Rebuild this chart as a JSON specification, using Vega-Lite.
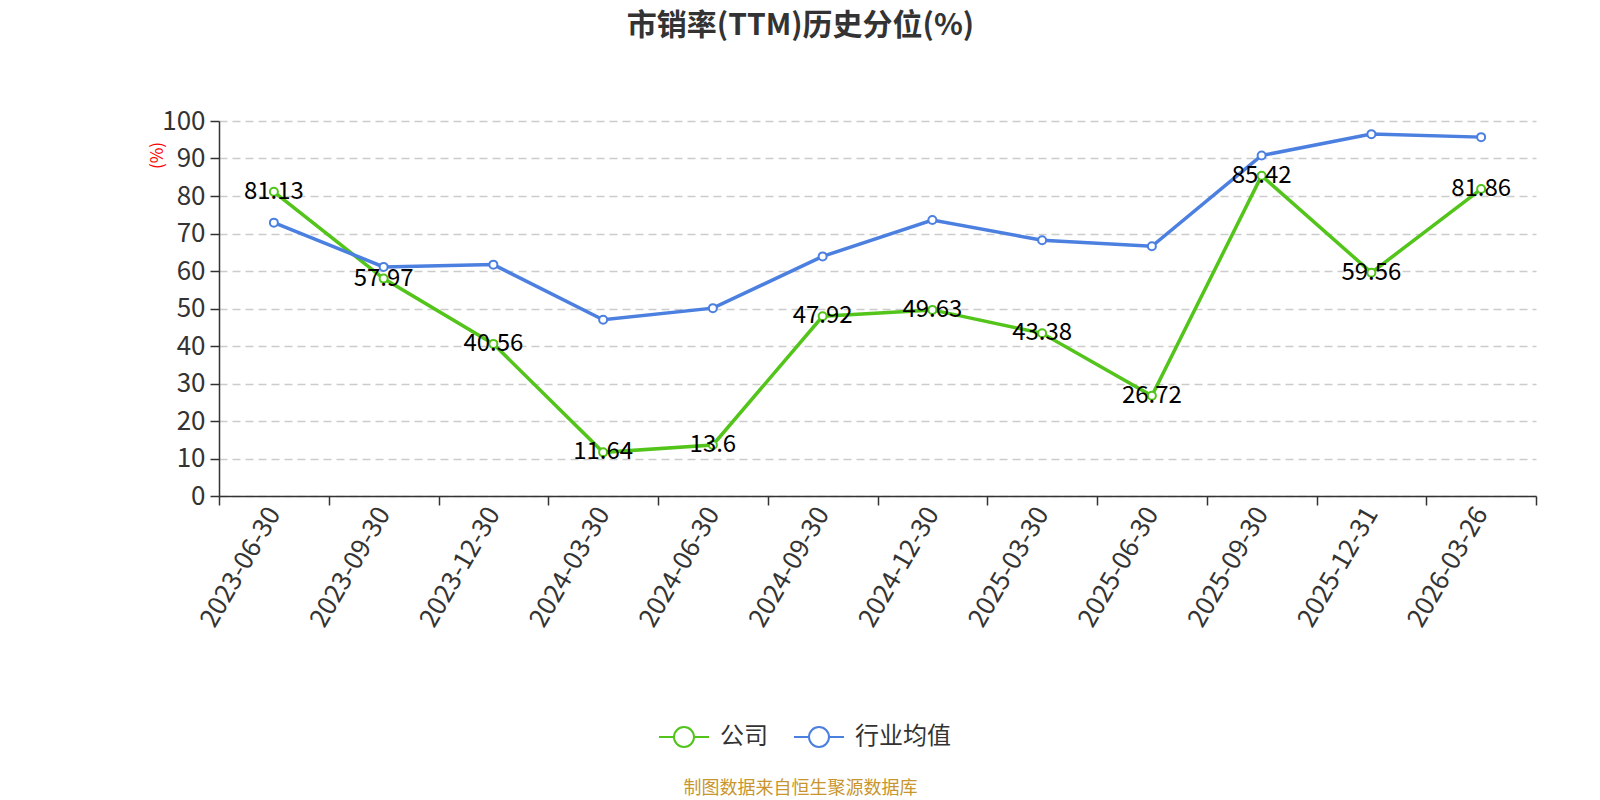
{
  "$schema": "https://vega.github.io/schema/vega-lite/v6.json",
  "width": 1317,
  "height": 375,
  "autosize": {"type": "none"},
  "padding": {"left": 219, "top": 121, "right": 64, "bottom": 304},
  "background": "white",
  "config": {"font": "Noto Sans CJK SC", "view": {"stroke": null}},
  "title": {"text": "市销率(TTM)历史分位(%)", "fontSize": 30, "fontWeight": "bold", "color": "#333333", "anchor": "middle", "frame": "group", "dx": -77, "offset": 67},
  "data": {"values": [
    {"date": "2023-06-30", "series": "公司", "value": 81.13},
    {"date": "2023-09-30", "series": "公司", "value": 57.97},
    {"date": "2023-12-30", "series": "公司", "value": 40.56},
    {"date": "2024-03-30", "series": "公司", "value": 11.64},
    {"date": "2024-06-30", "series": "公司", "value": 13.6},
    {"date": "2024-09-30", "series": "公司", "value": 47.92},
    {"date": "2024-12-30", "series": "公司", "value": 49.63},
    {"date": "2025-03-30", "series": "公司", "value": 43.38},
    {"date": "2025-06-30", "series": "公司", "value": 26.72},
    {"date": "2025-09-30", "series": "公司", "value": 85.42},
    {"date": "2025-12-31", "series": "公司", "value": 59.56},
    {"date": "2026-03-26", "series": "公司", "value": 81.86},
    {"date": "2023-06-30", "series": "行业均值", "value": 72.9},
    {"date": "2023-09-30", "series": "行业均值", "value": 61.1},
    {"date": "2023-12-30", "series": "行业均值", "value": 61.7},
    {"date": "2024-03-30", "series": "行业均值", "value": 47.0},
    {"date": "2024-06-30", "series": "行业均值", "value": 50.1},
    {"date": "2024-09-30", "series": "行业均值", "value": 63.9},
    {"date": "2024-12-30", "series": "行业均值", "value": 73.6},
    {"date": "2025-03-30", "series": "行业均值", "value": 68.2},
    {"date": "2025-06-30", "series": "行业均值", "value": 66.6},
    {"date": "2025-09-30", "series": "行业均值", "value": 90.8},
    {"date": "2025-12-31", "series": "行业均值", "value": 96.5},
    {"date": "2026-03-26", "series": "行业均值", "value": 95.7}
  ]},
  "encoding": {
    "x": {
      "field": "date", "type": "nominal", "sort": null,
      "scale": {"type": "band", "paddingInner": 0, "paddingOuter": 0},
      "axis": {
        "tickBand": "extent", "labelAngle": -60, "labelAlign": "right", "labelBaseline": "middle",
        "labelFontSize": 26, "labelColor": "#333333", "labelPadding": 4,
        "tickSize": 9, "tickColor": "#333333", "tickWidth": 1.5,
        "domainColor": "#333333", "domainWidth": 1.5, "grid": false,
        "title": "制图数据来自恒生聚源数据库", "titleColor": "#c8962e", "titleFontSize": 18, "titleFontWeight": "normal",
        "titleX": 581, "titleY": 292, "titleAlign": "center", "titleBaseline": "middle", "titleAnchor": null
      }
    },
    "y": {
      "field": "value", "type": "quantitative",
      "scale": {"domain": [0, 100], "nice": false},
      "axis": {
        "values": [0, 10, 20, 30, 40, 50, 60, 70, 80, 90, 100],
        "grid": true, "gridDash": [8, 5], "gridColor": "#cccccc", "gridWidth": 1.5,
        "tickSize": 9, "tickColor": "#333333", "tickWidth": 1.5,
        "labelFontSize": 26, "labelColor": "#333333", "labelPadding": 5,
        "domainColor": "#333333", "domainWidth": 1.5,
        "title": "(%)", "titleColor": "red", "titleFontSize": 17, "titleFontWeight": "normal",
        "titleAngle": -90, "titleX": -62, "titleY": 34, "titleAlign": "center", "titleBaseline": "middle"
      }
    },
    "color": {
      "field": "series", "type": "nominal",
      "scale": {"domain": ["公司", "行业均值"], "range": ["#52c41a", "#4b7fe0"]},
      "legend": {
        "orient": "none", "legendX": 439, "legendY": 590, "direction": "horizontal", "title": null,
        "symbolType": "M-1,0H-0.4M0.4,0H1M0.4,0A0.4,0.4,0,1,1,-0.4,0A0.4,0.4,0,1,1,0.4,0Z",
        "symbolSize": 2500, "symbolStrokeWidth": 2, "symbolFillColor": "white",
        "labelFontSize": 24, "labelColor": "#333333", "labelOffset": 10, "columnPadding": 22
      }
    }
  },
  "layer": [
    {"mark": {"type": "line", "strokeWidth": 3.5}},
    {"mark": {"type": "point", "filled": false, "fill": "white", "size": 64, "strokeWidth": 2, "opacity": 1}},
    {
      "transform": [{"filter": "datum.series === '公司'"}],
      "mark": {"type": "text", "fontSize": 24, "baseline": "alphabetic", "dy": 7},
      "encoding": {"text": {"field": "value", "type": "nominal"}, "color": {"value": "black"}}
    }
  ]
}
